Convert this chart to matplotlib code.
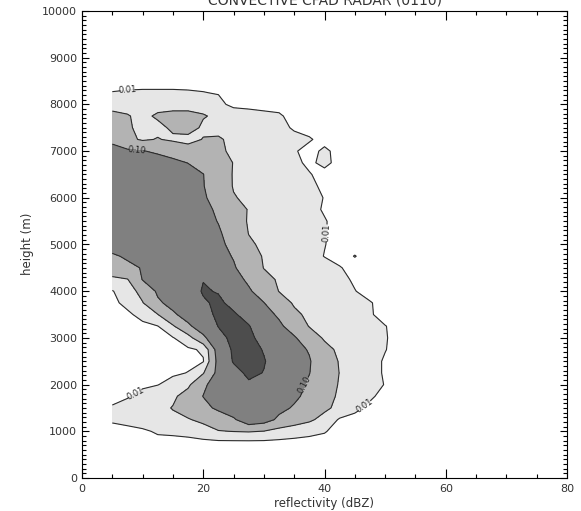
import numpy as np
import matplotlib
matplotlib.use("Agg")
import matplotlib.pyplot as plt
from matplotlib.ticker import MultipleLocator

# Reflectivity bin centres (dBZ) and height levels (m)
reflectivity = np.arange(5.0, 55.1, 2.5)
heights = np.arange(750, 8501, 250)

# Relative frequency of each reflectivity bin, in thousandths,
# one row per height level from the lowest to the highest
freq_permil = [
    [0, 0, 0, 0, 0, 0, 0, 0, 0, 0, 0, 0, 0, 0, 0, 0, 0, 0, 0, 0, 0],                       # 750
    [0, 0, 5, 14, 16, 20, 32, 48, 51, 53, 49, 35, 25, 18, 12, 0, 0, 0, 0, 0, 0],             # 1000
    [14, 21, 27, 34, 41, 47, 60, 76, 93, 135, 122, 90, 74, 58, 35, 6, 0, 0, 0, 0, 0],        # 1250
    [12, 19, 25, 38, 52, 70, 88, 108, 130, 130, 130, 113, 95, 77, 59, 38, 18, 3, 0, 0, 0],   # 1500
    [4, 8, 17, 31, 43, 67, 101, 129, 135, 135, 135, 131, 109, 87, 65, 44, 26, 15, 0, 0, 0],  # 1750
    [2, 4, 6, 9, 22, 42, 91, 124, 135, 145, 144, 132, 115, 94, 70, 47, 31, 19, 9, 0, 0],     # 2000
    [1, 2, 3, 4, 5, 11, 47, 116, 138, 157, 149, 133, 117, 101, 76, 49, 34, 20, 7, 0, 0],     # 2250
    [0, 1, 1, 2, 2, 3, 8, 117, 153, 170, 152, 135, 119, 103, 74, 47, 34, 20, 7, 0, 0],       # 2500
    [0, 1, 1, 2, 3, 5, 14, 126, 155, 162, 148, 129, 113, 97, 63, 42, 30, 20, 11, 0, 0],      # 2750
    [0, 1, 2, 4, 8, 33, 90, 140, 158, 156, 141, 122, 105, 73, 45, 32, 26, 21, 12, 0, 0],     # 3000
    [0, 2, 5, 9, 45, 92, 124, 151, 160, 152, 129, 109, 79, 48, 39, 31, 26, 21, 11, 0, 0],    # 3250
    [2, 6, 17, 49, 93, 118, 139, 156, 154, 138, 117, 93, 57, 43, 35, 29, 22, 13, 0, 0, 0],   # 3500
    [5, 16, 48, 93, 114, 130, 146, 156, 141, 121, 101, 68, 46, 38, 32, 27, 21, 12, 0, 0, 0], # 3750
    [8, 30, 65, 107, 120, 133, 153, 148, 125, 106, 78, 49, 43, 36, 30, 20, 11, 0, 0, 0, 0],  # 4000
    [40, 48, 102, 113, 125, 136, 149, 137, 117, 92, 61, 46, 40, 34, 28, 18, 6, 0, 0, 0, 0],  # 4250
    [80, 92, 102, 110, 118, 123, 128, 121, 105, 75, 49, 43, 38, 32, 22, 12, 0, 0, 0, 0, 0],  # 4500
    [95, 105, 113, 121, 125, 129, 125, 116, 97, 67, 47, 40, 32, 22, 9, 0, 11, 0, 0, 0, 0],   # 4750
    [116, 119, 122, 125, 128, 130, 125, 111, 87, 55, 44, 37, 30, 23, 11, 0, 0, 0, 0, 0, 0],  # 5000
    [125, 126, 128, 129, 130, 128, 125, 106, 78, 49, 43, 37, 30, 23, 12, 0, 0, 0, 0, 0, 0],  # 5250
    [128, 129, 130, 131, 132, 128, 117, 98, 68, 47, 41, 35, 29, 23, 12, 0, 0, 0, 0, 0, 0],   # 5500
    [130, 131, 132, 132, 133, 127, 113, 92, 66, 48, 41, 34, 28, 19, 7, 0, 0, 0, 0, 0, 0],    # 5750
    [132, 132, 133, 133, 130, 123, 106, 81, 52, 44, 38, 33, 27, 19, 9, 0, 0, 0, 0, 0, 0],    # 6000
    [133, 133, 133, 133, 129, 120, 102, 72, 48, 43, 37, 32, 27, 17, 4, 0, 0, 0, 0, 0, 0],    # 6250
    [132, 132, 132, 132, 128, 118, 101, 68, 48, 42, 36, 30, 24, 12, 0, 0, 0, 0, 0, 0, 0],    # 6500
    [128, 126, 124, 120, 110, 99, 82, 65, 49, 42, 35, 27, 17, 4, 18, 0, 0, 0, 0, 0, 0],      # 6750
    [115, 108, 102, 93, 83, 73, 64, 54, 46, 38, 30, 21, 13, 0, 16, 0, 0, 0, 0, 0, 0],        # 7000
    [90, 60, 45, 52, 44, 35, 52, 54, 42, 36, 30, 25, 20, 13, 0, 0, 0, 0, 0, 0, 0],           # 7250
    [62, 53, 44, 41, 56, 70, 42, 40, 36, 32, 27, 20, 6, 0, 0, 0, 0, 0, 0, 0, 0],             # 7500
    [56, 52, 42, 55, 58, 58, 53, 42, 35, 25, 18, 14, 0, 0, 0, 0, 0, 0, 0, 0, 0],             # 7750
    [42, 40, 38, 38, 40, 40, 36, 20, 0, 0, 0, 0, 0, 0, 0, 0, 0, 0, 0, 0, 0],                 # 8000
    [11, 13, 14, 14, 14, 13, 11, 8, 0, 0, 0, 0, 0, 0, 0, 0, 0, 0, 0, 0, 0],                  # 8250
    [0, 0, 0, 0, 0, 0, 0, 0, 0, 0, 0, 0, 0, 0, 0, 0, 0, 0, 0, 0, 0],                         # 8500
]

contour_levels = [0.01, 0.05, 0.10, 0.15]
labelled_levels = [0.01, 0.10]
plain_levels = [0.05, 0.15]
fill_colors = ["#e6e6e6", "#b3b3b3", "#808080", "#4d4d4d"]

title = "CONVECTIVE CFAD RADAR (0110)"
x_label = "reflectivity (dBZ)"
y_label = "height (m)"
x_ticks = [0, 20, 40, 60, 80]
y_ticks = list(range(0, 10001, 1000))

# where the contour labels sit (data coordinates)
label_spots = [(7.5, 8280), (9.0, 7080), (40.6, 5240),
               (9.0, 1741), (36.8, 1991), (46.7, 1527)]

text_color = "#333333"
line_color = "#2b2b2b"
W, H = 581, 511

fig = plt.figure(figsize=(W / 100, H / 100), dpi=100)
ax = fig.add_axes([82 / W, 33 / H, 485 / W, 467 / H])

freq = np.array(freq_permil, dtype=float) / 1000.0
X, Y = np.meshgrid(reflectivity, heights)

ax.contourf(X, Y, freq, levels=contour_levels + [1.0], colors=fill_colors)
ax.contour(X, Y, freq, levels=plain_levels, colors=line_color, linewidths=0.8)
cs_lab = ax.contour(X, Y, freq, levels=labelled_levels, colors=line_color,
                    linewidths=0.8)
ax.clabel(cs_lab, fmt="%.2f", fontsize=6, colors="#222222",
          inline=True, inline_spacing=2, manual=label_spots)

ax.set_xlim(0, 80)
ax.set_ylim(0, 10000)
ax.set_xticks(x_ticks)
ax.set_yticks(y_ticks)
ax.xaxis.set_minor_locator(MultipleLocator(5))
ax.yaxis.set_minor_locator(MultipleLocator(100))

ax.tick_params(which="both", direction="in", top=True, right=True,
               width=0.8, color="black", labelsize=8, labelcolor=text_color)
ax.tick_params(axis="x", which="major", length=6.5, pad=4.5)
ax.tick_params(axis="x", which="minor", length=2.9)
ax.tick_params(axis="y", which="major", length=5.0, pad=3.5)
ax.tick_params(axis="y", which="minor", length=2.9)
for sp in ax.spines.values():
    sp.set_linewidth(0.8)

fig.text(324.5 / W, 1 - 5 / H, title, ha="center", va="baseline",
         fontsize=10, color=text_color)
fig.text(323.5 / W, 1 - 503 / H, x_label, ha="center", va="center",
         fontsize=8.5, color=text_color)
fig.text(27 / W, 1 - 244 / H, y_label, ha="center", va="center",
         rotation=90, fontsize=8.5, color=text_color)

fig.savefig("out.png", dpi=100)
